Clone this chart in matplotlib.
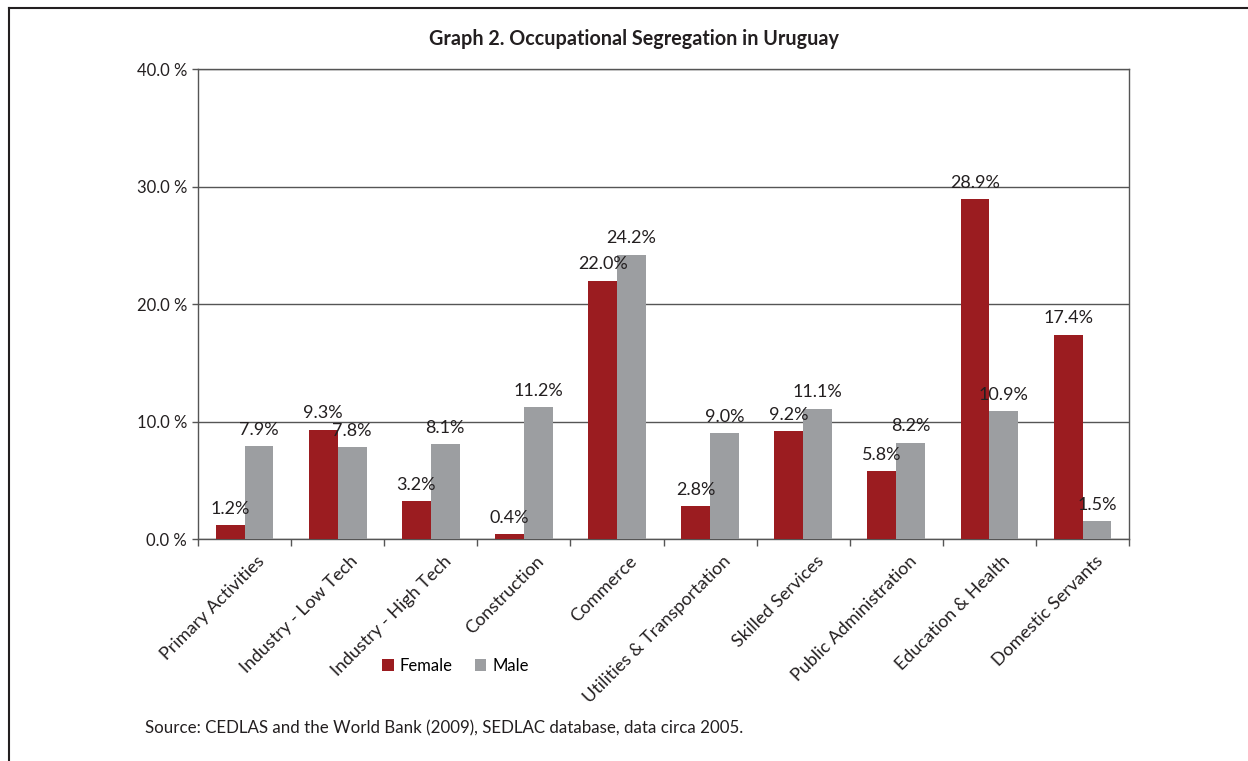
import numpy as np
import matplotlib.pyplot as plt
from matplotlib.lines import Line2D

plt.rcParams['font.family'] = ['Lato', 'DejaVu Sans']

sectors = ["Primary Activities", "Industry - Low Tech", "Industry - High Tech",
           "Construction", "Commerce", "Utilities & Transportation",
           "Skilled Services", "Public Administration", "Education & Health",
           "Domestic Servants"]
female = [1.2, 9.3, 3.2, 0.4, 22.0, 2.8, 9.2, 5.8, 28.9, 17.4]
male = [7.9, 7.8, 8.1, 11.2, 24.2, 9.0, 11.1, 8.2, 10.9, 1.5]
yticks = [0, 10, 20, 30, 40]

red = "#9b1c20"
grey = "#9c9ea1"
dark = "#231f20"

fig = plt.figure(figsize=(12.48, 7.61), dpi=100)
ax = fig.add_axes([0.1587, 0.2917, 0.7460, 0.6176])

x = np.arange(len(sectors))
w = 0.31
b1 = ax.bar(x - w/2, female, w, color=red, label="Female", zorder=3)
b2 = ax.bar(x + w/2, male, w, color=grey, label="Male", zorder=3)

for bars, vals in ((b1, female), (b2, male)):
    for rect, v in zip(bars, vals):
        ax.annotate(f"{v:.1f}%", (rect.get_x() + rect.get_width()/2, v),
                    xytext=(0, 6), textcoords="offset points",
                    ha="center", va="bottom", fontsize=13, color=dark)

ax.set_xlim(-0.5, len(sectors) - 0.5)
ax.set_ylim(0, 40)
ax.set_yticks(yticks)
ax.set_yticklabels([f"{t:.1f} %" for t in yticks], fontsize=12, color=dark)
ax.yaxis.grid(True, color="#555555", lw=1.0, zorder=0)

# category boundaries carry the tick marks, names sit under the groups
ax.set_xticks(np.arange(len(sectors) + 1) - 0.5)
ax.set_xticklabels([])
ax.tick_params(axis="x", length=5, width=1, color="#555555")
ax.tick_params(axis="y", length=4, width=1, color="#555555", pad=4)
for i, name in enumerate(sectors):
    ax.text(i + 0.13, -0.03, name, transform=ax.get_xaxis_transform(),
            rotation=45, ha="right", va="top", rotation_mode="anchor",
            fontsize=13, color=dark)

for s in ax.spines.values():
    s.set_color("#555555")
    s.set_linewidth(1.0)

ax.legend(loc="center", bbox_to_anchor=(0.365, 0.125), bbox_transform=fig.transFigure,
          ncol=2, frameon=False, fontsize=12, handlelength=0.7, handleheight=0.7,
          handletextpad=0.35, columnspacing=1.3)

fig.text(0.508, 0.949, "Graph 2. Occupational Segregation in Uruguay",
         ha="center", va="center", fontsize=14.2, fontweight="bold", color=dark)
fig.text(0.116, 0.043, "Source: CEDLAS and the World Bank (2009), SEDLAC database, data circa 2005.",
         ha="left", va="center", fontsize=12.2, color=dark)

# frame along the top and left edges
fx, fy = 9/1248, 1 - 8/761
fig.add_artist(Line2D([fx, 1], [fy, fy], color=dark, lw=1.5))
fig.add_artist(Line2D([fx, fx], [fy, 0], color=dark, lw=1.5))

fig.savefig("out.png", dpi=100)
